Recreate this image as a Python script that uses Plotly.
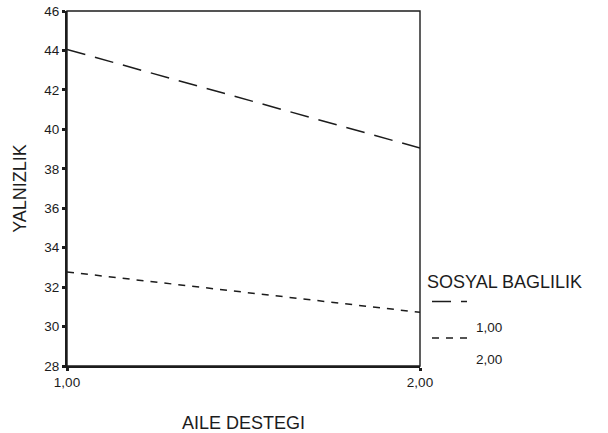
import plotly.graph_objects as go

# ---- data ----
aile_destegi = [1.0, 2.0]                 # x categories
x_tick_labels = ["1,00", "2,00"]
sosyal_baglilik_1 = [44.05, 39.05]        # SOSYAL BAGLILIK = 1,00
sosyal_baglilik_2 = [32.77, 30.72]        # SOSYAL BAGLILIK = 2,00
series_names = ["1,00", "2,00"]
y_ticks = [28, 30, 32, 34, 36, 38, 40, 42, 44, 46]

FONT = "Liberation Sans, Arial, sans-serif"
INK = "#1c1c1c"
DASHES = ["19px,10px", "7px,7px"]
TITLE_SIZE = 18
TICK_SIZE = 13.5

W, H = 608, 433
L, R, T, B = 67, 188, 11, 67
pw, ph = W - L - R, H - T - B


def px_x(px):
    return (px - L) / pw


def px_y(py):
    return (H - B - py) / ph


fig = go.Figure()
for name, vals, dash in zip(series_names, [sosyal_baglilik_1, sosyal_baglilik_2], DASHES):
    fig.add_trace(go.Scatter(
        x=aile_destegi, y=vals, mode="lines", name=name,
        line=dict(color=INK, width=1.5, dash=dash),
        showlegend=False, cliponaxis=False, hoverinfo="skip",
    ))

# frame (thin top/right)
fig.add_shape(type="rect", xref="x domain", yref="y domain", x0=0, x1=1, y0=0, y1=1,
              line=dict(color=INK, width=1.4), layer="above")

# manual legend laid out like the reference
fig.add_annotation(text="SOSYAL BAGLILIK", xref="paper", yref="paper",
                   x=px_x(425), y=px_y(282), xanchor="left", yanchor="middle",
                   showarrow=False, font=dict(family=FONT, size=TITLE_SIZE, color=INK))
sample_y = [301.5, 338]
label_y = [327, 359.5]
for name, dash, sy, ly in zip(series_names, DASHES, sample_y, label_y):
    fig.add_shape(type="line", xref="paper", yref="paper",
                  x0=px_x(432), x1=px_x(467), y0=px_y(sy), y1=px_y(sy),
                  line=dict(color=INK, width=1.5, dash=dash))
    fig.add_annotation(text=name, xref="paper", yref="paper",
                       x=px_x(474), y=px_y(ly), xanchor="left", yanchor="middle",
                       showarrow=False, font=dict(family=FONT, size=TICK_SIZE, color=INK))

fig.update_layout(
    template="none",
    width=W, height=H,
    margin=dict(l=L, r=R, t=T, b=B, pad=0),
    paper_bgcolor="white", plot_bgcolor="white",
    font=dict(family=FONT, size=TICK_SIZE, color=INK),
    showlegend=False,
)
fig.update_xaxes(
    automargin=False,
    range=[1, 2], tickvals=aile_destegi, ticktext=x_tick_labels,
    showgrid=False, zeroline=False, showline=True, linewidth=2.2, linecolor=INK,
    ticks="outside", ticklen=3, tickwidth=2.5, tickcolor=INK,
    tickfont=dict(family=FONT, size=TICK_SIZE, color=INK),
    title=dict(text="AILE DESTEGI", font=dict(family=FONT, size=TITLE_SIZE, color=INK), standoff=27),
)
fig.update_yaxes(
    automargin=False,
    range=[28, 46], tickvals=y_ticks,
    showgrid=False, zeroline=False, showline=True, linewidth=2.2, linecolor=INK,
    ticks="outside", ticklen=3, tickwidth=2.5, tickcolor=INK,
    tickfont=dict(family=FONT, size=TICK_SIZE, color=INK),
    title=dict(text="YALNIZLIK", font=dict(family=FONT, size=TITLE_SIZE, color=INK), standoff=13),
)

fig.write_html(
    "out.html",
    config={"displayModeBar": False},
    post_script="document.body.style.margin='0';document.body.style.overflow='hidden';",
)
